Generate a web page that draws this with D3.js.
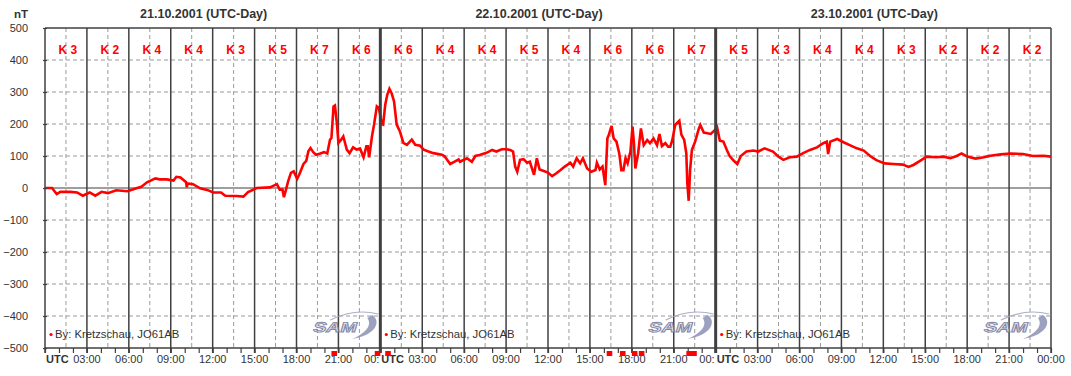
<!DOCTYPE html>
<html>
<head>
<meta charset="utf-8">
<script src="https://cdn.jsdelivr.net/npm/d3@7"></script>
<style>
  body { margin: 0; background: #fff; }
  svg { display: block; font-family: Arial, "Liberation Sans", sans-serif; }
</style>
</head>
<body>
<div id="chart"></div>
<script>
//===============================
//  0.  Data
//===============================

// day titles
var dayTitles = ["21.10.2001 (UTC-Day)", "22.10.2001 (UTC-Day)", "23.10.2001 (UTC-Day)"];

// K index for each 3-hour block (3 days x 8)
var kIndex = [3, 2, 4, 4, 3, 5, 7, 6,
              6, 4, 4, 5, 4, 6, 6, 7,
              5, 3, 4, 4, 3, 2, 2, 2];

// y axis ticks
var yTicks = [-500, -400, -300, -200, -100, 0, 100, 200, 300, 400, 500];

// x tick labels within a day (hour -> label)
var hourLabels = ["03:00", "06:00", "09:00", "12:00", "15:00", "18:00", "21:00", "00:00"];

// flagged hours (red squares below the axis), in hours since start
var flagHours = [20.5, 23.6, 24.35, 40.2, 41.15, 42.0, 42.5, 45.9, 46.25];

// field series: time in hours since 21.10.2001 00:00 UTC, value in nT
var timeHours = [
  0, 0.5, 0.84, 1.1, 1.8, 2.3, 2.7, 3.2, 3.6, 4.05, 4.5, 5.1, 5.9, 6.6, 6.9, 7.3, 7.9, 8.2, 8.7, 9.2,
  9.4, 9.7, 10.1, 10.15, 10.2, 10.6, 11.1, 11.6, 12.05, 12.6, 12.9, 13.7, 14.2, 14.55, 14.67, 15.15, 16.1, 16.6, 16.8, 17.0,
  17.1, 17.25, 17.4, 17.6, 17.8, 18.05, 18.2, 18.5, 18.7, 18.85, 19.0, 19.2, 19.4, 19.7, 19.97, 20.2, 20.4, 20.5, 20.65, 20.75,
  20.9, 21.0, 21.2, 21.35, 21.6, 21.8, 22.05, 22.3, 22.55, 22.8, 23.0, 23.1, 23.2, 23.4, 23.55, 23.75, 23.9, 24.1, 24.2, 24.35,
  24.5, 24.65, 24.8, 24.98, 25.17, 25.4, 25.65, 25.9, 26.25, 26.5, 26.85, 27.1, 27.4, 27.8, 28.4, 28.6, 29.0, 29.35, 29.6, 29.7,
  30.2, 30.55, 30.8, 31.1, 31.6, 32.0, 32.3, 32.7, 33.0, 33.3, 33.5, 33.65, 33.8, 34.0, 34.25, 34.5, 34.7, 35.0, 35.2, 35.4,
  35.7, 36.0, 36.3, 36.6, 36.9, 37.2, 37.6, 37.8, 38.05, 38.3, 38.5, 38.8, 39.1, 39.4, 39.5, 39.7, 39.9, 40.1, 40.25, 40.35,
  40.55, 40.7, 40.9, 41.1, 41.25, 41.4, 41.55, 41.7, 41.9, 42.05, 42.15, 42.25, 42.45, 42.65, 42.85, 43.1, 43.3, 43.55, 43.8, 43.98,
  44.15, 44.4, 44.6, 44.75, 44.9, 45.1, 45.4, 45.55, 45.75, 45.9, 45.97, 46.07, 46.17, 46.3, 46.53, 46.8, 46.9, 47.15, 47.4, 47.65,
  47.9, 48.1, 48.3, 48.55, 48.8, 49.0, 49.3, 49.55, 49.8, 50.2, 50.7, 51.05, 51.5, 52.1, 52.5, 52.85, 53.3, 53.8, 54.3, 54.75,
  55.25, 55.7, 55.95, 56.05, 56.2, 56.7, 57.15, 57.6, 58.1, 58.6, 59.05, 59.5, 60.1, 60.7, 61.4, 61.8, 62.15, 62.6, 63.1, 63.8,
  64.3, 64.8, 65.25, 65.6, 66.0, 66.6, 67.2, 67.65, 68.4, 69.1, 70.0, 70.7, 71.45, 72
];
var fieldValues = [
  0, 0, -19, -12, -12, -14, -24, -14, -24, -12, -16, -7, -10, 0, 4, 18, 30, 27, 27, 23,
  35, 33, 18, 2, 14, 12, -1, -6, -14, -14, -24, -25, -27, -12, -10, 0, 2, 12, -5, -5,
  -29, -5, 21, 47, 52, 29, 42, 75, 85, 115, 125, 112, 104, 108, 112, 108, 151, 156, 255, 258,
  198, 141, 151, 161, 120, 109, 127, 120, 123, 96, 130, 130, 96, 161, 198, 255, 250, 200, 198, 260,
  292, 310, 297, 271, 198, 177, 141, 135, 151, 135, 132, 120, 115, 109, 104, 99, 75, 83, 89, 82,
  93, 82, 100, 103, 110, 119, 114, 121, 121, 119, 114, 67, 51, 88, 90, 79, 82, 41, 93, 58,
  53, 48, 37, 46, 56, 67, 79, 67, 93, 77, 93, 61, 51, 56, 79, 58, 67, 9, 155, 166,
  194, 155, 145, 108, 56, 56, 93, 77, 114, 192, 140, 61, 108, 186, 134, 150, 140, 155, 134, 169,
  131, 140, 129, 129, 150, 197, 210, 166, 150, 108, 15, -40, 56, 119, 145, 186, 197, 173, 171, 169,
  179, 190, 148, 145, 119, 100, 85, 75, 100, 114, 117, 114, 124, 114, 98, 88, 96, 98, 110, 119,
  127, 140, 145, 106, 145, 153, 143, 134, 124, 117, 100, 87, 77, 75, 73, 66, 72, 84, 98, 96,
  98, 93, 100, 108, 98, 92, 96, 101, 105, 108, 106, 100, 101, 98
];

var signature = "By: Kretzschau, JO61AB";

//===============================
//  1.  Set up Charted Area
//===============================

var svgWidth = 1071;
var svgHeight = 376;

var plotLeft = 45, plotRight = 1051, plotTop = 28, plotBottom = 348;

var svg = d3.select("#chart")
  .append("svg")
  .attr("width", svgWidth)
  .attr("height", svgHeight);

var xScale = d3.scaleLinear().domain([0, 72]).range([plotLeft, plotRight]);
var yScale = d3.scaleLinear().domain([-500, 500]).range([plotBottom, plotTop]);

var darkLine = "#404040";
var gridColor = "#9a9a9a";
var textColor = "#333";

//===============================
//  2.  Grid
//===============================

// dashed horizontal grid
svg.append("g").selectAll("line")
  .data(yTicks.filter(d => d !== 0 && d !== 500 && d !== -500))
  .enter().append("line")
  .attr("x1", plotLeft).attr("x2", plotRight)
  .attr("y1", d => yScale(d)).attr("y2", d => yScale(d))
  .attr("stroke", gridColor).attr("stroke-dasharray", "4,3");

// dashed vertical grid at the middle of each 3 h block
svg.append("g").selectAll("line")
  .data(d3.range(24).map(i => i * 3 + 1.5))
  .enter().append("line")
  .attr("x1", d => xScale(d)).attr("x2", d => xScale(d))
  .attr("y1", plotTop).attr("y2", plotBottom)
  .attr("stroke", gridColor).attr("stroke-dasharray", "4,3");

// solid 3 h lines
svg.append("g").selectAll("line")
  .data(d3.range(1, 24).filter(i => i % 8 !== 0).map(i => i * 3))
  .enter().append("line")
  .attr("x1", d => xScale(d)).attr("x2", d => xScale(d))
  .attr("y1", plotTop).attr("y2", plotBottom + 5)
  .attr("stroke", darkLine).attr("stroke-width", 1.5);

// zero line
svg.append("line")
  .attr("x1", plotLeft).attr("x2", plotRight)
  .attr("y1", yScale(0)).attr("y2", yScale(0))
  .attr("stroke", darkLine).attr("stroke-width", 1.2);

// frame (top, bottom, left, right)
svg.append("line").attr("x1", plotLeft).attr("x2", plotRight).attr("y1", plotTop).attr("y2", plotTop)
  .attr("stroke", darkLine).attr("stroke-width", 1.5);
svg.append("line").attr("x1", plotLeft).attr("x2", plotRight).attr("y1", plotBottom).attr("y2", plotBottom)
  .attr("stroke", darkLine).attr("stroke-width", 1.5);
svg.append("line").attr("x1", plotLeft).attr("x2", plotLeft).attr("y1", plotTop).attr("y2", plotBottom + 5)
  .attr("stroke", darkLine).attr("stroke-width", 1.5);
svg.append("line").attr("x1", plotRight).attr("x2", plotRight).attr("y1", plotTop).attr("y2", plotBottom + 5)
  .attr("stroke", darkLine).attr("stroke-width", 1.5);

//===============================
//  3.  Watermarks and signature
//===============================

[0, 1, 2].forEach(day => {
  var xEnd = xScale((day + 1) * 24);
  var logo = svg.append("g")
    .attr("transform", `translate(${xEnd - 66}, 311)`)
    .attr("opacity", 0.85);
  logo.append("path")
    .attr("d", "M16,9 Q40,-3 64,3")
    .attr("fill", "none").attr("stroke", "#9ea2c2").attr("stroke-width", 1.2);
  logo.append("path")
    .attr("d", "M58,4 C68,11 60,25 38,28 C52,22 58,14 53,7 Z")
    .attr("fill", "#8d91b6");
  logo.append("text")
    .attr("x", 3).attr("y", 21)
    .attr("transform", "scale(1.4,1) skewX(-12)")
    .attr("font-size", 14).attr("font-weight", "bold")
    .attr("fill", "#e4e5ee").attr("stroke", "#6f7499").attr("stroke-width", 0.9)
    .text("SAM");

  var xStart = xScale(day * 24);
  svg.append("circle")
    .attr("cx", xStart + 6).attr("cy", 334.5).attr("r", 1.6).attr("fill", "red");
  svg.append("text")
    .attr("x", xStart + 10).attr("y", 338)
    .attr("font-size", 11.3).attr("fill", textColor)
    .text(signature);
});

//===============================
//  4.  Data line
//===============================

var series = timeHours.map((h, i) => ({ h: h, v: fieldValues[i] }));

var lineGen = d3.line()
  .x(d => xScale(d.h))
  .y(d => yScale(d.v));

svg.append("path")
  .datum(series)
  .attr("d", lineGen)
  .attr("fill", "none")
  .attr("stroke", "#ff0000")
  .attr("stroke-width", 2.6)
  .attr("stroke-linejoin", "miter");

// day boundaries drawn on top
svg.append("g").selectAll("line")
  .data([24, 48])
  .enter().append("line")
  .attr("x1", d => xScale(d)).attr("x2", d => xScale(d))
  .attr("y1", plotTop).attr("y2", plotBottom + 5)
  .attr("stroke", darkLine).attr("stroke-width", 3);

//===============================
//  5.  Axes
//===============================

// y axis
var yAxis = d3.axisLeft(yScale).tickValues(yTicks).tickSize(4).tickPadding(15);
var yAxisG = svg.append("g")
  .attr("transform", `translate(${plotLeft + 2}, 0)`)
  .call(yAxis);
yAxisG.select(".domain").remove();
yAxisG.selectAll("line").attr("stroke", darkLine).attr("stroke-width", 1.2);
yAxisG.selectAll("text")
  .attr("font-size", 11).attr("fill", textColor)
  .attr("font-family", "Arial, 'Liberation Sans', sans-serif");

// x axis: hourly ticks
var xAxis = d3.axisBottom(xScale).tickValues(d3.range(0, 73)).tickSize(5).tickFormat("");
var xAxisG = svg.append("g")
  .attr("transform", `translate(0, ${plotBottom})`)
  .call(xAxis);
xAxisG.select(".domain").remove();
xAxisG.selectAll("line").attr("stroke", darkLine).attr("stroke-width", 1.2);

// time labels; at an inner day boundary only "00:" shows before the next "UTC"
[0, 1, 2].forEach(day => {
  svg.append("g").selectAll("text")
    .data(hourLabels)
    .enter().append("text")
    .attr("x", (d, i) => {
      var xt = xScale(day * 24 + (i + 1) * 3);
      return (i === 7 && day < 2) ? xt - 1 : xt;
    })
    .attr("y", 363)
    .attr("text-anchor", (d, i) => (i === 7 && day < 2) ? "end" : "middle")
    .attr("font-size", 11).attr("fill", textColor)
    .text((d, i) => (i === 7 && day < 2) ? d.slice(0, 3) : d);
});
[0, 1, 2].forEach(day => {
  var x0 = xScale(day * 24);
  svg.append("text")
    .attr("x", x0 + 1).attr("y", 363)
    .attr("font-size", 11).attr("font-weight", "bold").attr("fill", textColor)
    .text("UTC");
});

// flagged hours below the axis
svg.append("g").selectAll("rect")
  .data(flagHours)
  .enter().append("rect")
  .attr("x", d => xScale(d))
  .attr("y", 351)
  .attr("width", xScale(0.4) - xScale(0))
  .attr("height", 5)
  .attr("fill", "#ff0000");

//===============================
//  6.  Titles and K labels
//===============================

svg.append("text")
  .attr("x", 21).attr("y", 18)
  .attr("text-anchor", "middle")
  .attr("font-size", 11.5).attr("font-weight", "bold").attr("fill", textColor)
  .text("nT");

svg.append("g").selectAll("text")
  .data(dayTitles)
  .enter().append("text")
  .attr("x", (d, i) => xScale(i * 24 + 12) - 9)
  .attr("y", 18)
  .attr("text-anchor", "middle")
  .attr("font-size", 12.5).attr("font-weight", "bold").attr("fill", textColor)
  .text(d => d);

svg.append("g").selectAll("text")
  .data(kIndex)
  .enter().append("text")
  .attr("x", (d, i) => xScale(i * 3 + 1.5) + 2)
  .attr("y", 54)
  .attr("text-anchor", "middle")
  .attr("font-size", 12).attr("font-weight", "bold").attr("fill", "#ff0000")
  .text(d => "K " + d);
</script>
</body>
</html>
